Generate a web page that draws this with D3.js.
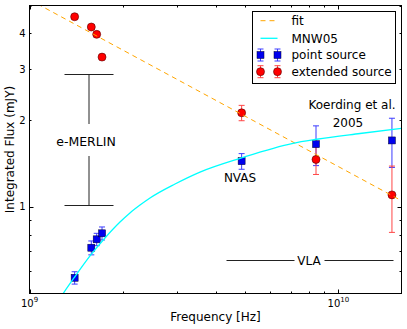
<!DOCTYPE html>
<html><head><meta charset="utf-8">
<script src="https://cdn.jsdelivr.net/npm/d3@7"></script>
<style>body{margin:0;background:#fff} text{font-family:"DejaVu Sans",sans-serif;fill:#000}</style>
</head><body><svg id="c" width="407" height="329"></svg>
<script>
// ---- data ----
const pointFreq = [1.40e9, 1.585e9, 1.65e9, 1.717e9, 4.86e9, 8.46e9, 1.49e10];
const pointFlux = [0.567, 0.721, 0.771, 0.809, 1.44, 1.65, 1.70];
const pointErr  = [0.028, 0.040, 0.038, 0.042, 0.09, 0.26, 0.33];
const extFreq = [1.40e9, 1.585e9, 1.65e9, 1.717e9, 4.86e9, 8.46e9, 1.49e10];
const extFlux = [4.57, 4.21, 3.97, 3.31, 2.12, 1.46, 1.10];
const extErr  = [0.08, 0.08, 0.08, 0.07, 0.13, 0.165, 0.285];
const fitFreq = [1.0e9, 1.6e10];
const fitFlux = [5.24, 1.05];
const modelFreq = [1.287e9, 1.393e9, 1.570e9, 1.755e9, 1.963e9, 2.114e9, 2.279e9, 2.455e9, 2.958e9, 3.563e9, 4.836e9, 7.125e9, 8.51e9, 1.174e10, 1.6e10];
const modelFlux = [0.501, 0.566, 0.675, 0.779, 0.885, 0.952, 1.014, 1.073, 1.20, 1.32, 1.477, 1.662, 1.716, 1.797, 1.873];
const yTickLabels = [1, 2, 3, 4];
const xTickLabels = [1e9, 1e10];
const legendLabels = ["fit", "MNW05", "point source", "extended source"];

// ---- layout ----
const svg = d3.select("#c");
const L = 29.5, R = 401.5, T = 5.5, B = 293.5;
const x = d3.scaleLog().domain([1e9, 1.6e10]).range([L, R]);
const y = d3.scaleLog().domain([0.5, 5]).range([B, T]);

svg.append("defs").append("clipPath").attr("id", "clip")
  .append("rect").attr("x", L).attr("y", T).attr("width", R - L).attr("height", B - T);

const isMajor = v => Math.abs(Math.log10(v) - Math.round(Math.log10(v))) < 1e-9;

// ticks (inward, all four sides)
const tg = svg.append("g").attr("stroke", "#000").attr("stroke-width", 1);
x.ticks().forEach(v => {
  const px = Math.round(x(v)) + 0.5, len = isMajor(v) ? 4 : 2;
  if (px <= L + 0.5 || px >= R - 0.5) return;
  tg.append("line").attr("x1", px).attr("x2", px).attr("y1", B).attr("y2", B - len);
  tg.append("line").attr("x1", px).attr("x2", px).attr("y1", T).attr("y2", T + len);
});
y.ticks().forEach(v => {
  const py = Math.round(y(v)) + 0.5, len = isMajor(v) ? 4 : 2;
  if (py <= T + 0.5 || py >= B - 0.5) return;
  tg.append("line").attr("y1", py).attr("y2", py).attr("x1", L).attr("x2", L + len);
  tg.append("line").attr("y1", py).attr("y2", py).attr("x1", R).attr("x2", R - len);
});

// tick labels
yTickLabels.forEach(v => {
  svg.append("text").attr("x", L - 4).attr("y", y(v)).attr("dy", "0.35em")
    .attr("text-anchor", "end").attr("font-size", 10).text(v);
});
xTickLabels.forEach(v => {
  const t = svg.append("text").attr("x", x(v)).attr("y", 306.5)
    .attr("text-anchor", "middle").attr("font-size", 10);
  t.append("tspan").text("10");
  t.append("tspan").attr("font-size", 7).attr("dy", -5).text(Math.round(Math.log10(v)));
});

// axis titles
svg.append("text").attr("x", (L + R) / 2).attr("y", 321).attr("text-anchor", "middle")
  .attr("font-size", 12).text("Frequency [Hz]");
svg.append("text").attr("transform", `translate(14,${(T + B) / 2}) rotate(-90)`)
  .attr("text-anchor", "middle").attr("font-size", 12).text("Integrated Flux (mJY)");

const plot = svg.append("g").attr("clip-path", "url(#clip)");

// error bars + markers
function errorbars(fr, fl, er, col) {
  fr.forEach((f, i) => {
    const px = x(f), y1 = y(fl[i] - er[i]), y2 = y(fl[i] + er[i]);
    plot.append("line").attr("x1", px).attr("x2", px).attr("y1", y1).attr("y2", y2)
      .attr("stroke", col).attr("stroke-width", 1);
    [y1, y2].forEach(yy => plot.append("line").attr("x1", px - 3).attr("x2", px + 3)
      .attr("y1", yy).attr("y2", yy).attr("stroke", col).attr("stroke-width", 1));
  });
}
errorbars(pointFreq, pointFlux, pointErr, "#3c3cff");
errorbars(extFreq, extFlux, extErr, "#ff4646");

pointFreq.forEach((f, i) => {
  plot.append("rect").attr("x", x(f) - 3.5).attr("y", y(pointFlux[i]) - 3.5)
    .attr("width", 7).attr("height", 7).attr("fill", "#0000ee")
    .attr("stroke", "#000033").attr("stroke-width", 0.5);
});
extFreq.forEach((f, i) => {
  plot.append("circle").attr("cx", x(f)).attr("cy", y(extFlux[i])).attr("r", 4)
    .attr("fill", "#ff0000").attr("stroke", "#550000").attr("stroke-width", 0.6);
});

// lines
const line = d3.line().x(d => x(d[0])).y(d => y(d[1]));
plot.append("path").datum(fitFreq.map((f, i) => [f, fitFlux[i]]))
  .attr("d", line).attr("fill", "none").attr("stroke", "#ffa500")
  .attr("stroke-width", 1).attr("stroke-dasharray", "5,4");
plot.append("path").datum(modelFreq.map((f, i) => [f, modelFlux[i]]))
  .attr("d", line.curve(d3.curveMonotoneX)).attr("fill", "none").attr("stroke", "#00ffff")
  .attr("stroke-width", 1.3);

// annotations
const ann = svg.append("g").attr("stroke", "#222").attr("stroke-width", 1);
const ex = 89;
ann.append("line").attr("x1", 64.5).attr("x2", 113.5).attr("y1", 74.5).attr("y2", 74.5);
ann.append("line").attr("x1", 64.5).attr("x2", 113.5).attr("y1", 205.5).attr("y2", 205.5);
ann.append("line").attr("x1", ex).attr("x2", ex).attr("y1", 74.5).attr("y2", 124);
ann.append("line").attr("x1", ex).attr("x2", ex).attr("y1", 156).attr("y2", 205.5);
svg.append("text").attr("x", 86).attr("y", 146).attr("text-anchor", "middle")
  .attr("font-size", 12.5).text("e-MERLIN");

ann.append("line").attr("x1", 226.5).attr("x2", 294.5).attr("y1", 260.5).attr("y2", 260.5);
ann.append("line").attr("x1", 324.5).attr("x2", 393.5).attr("y1", 260.5).attr("y2", 260.5);
svg.append("text").attr("x", 309).attr("y", 265).attr("text-anchor", "middle")
  .attr("font-size", 12).text("VLA");

svg.append("text").attr("x", 240).attr("y", 181.5).attr("text-anchor", "middle")
  .attr("font-size", 12).text("NVAS");
svg.append("text").attr("x", 352).attr("y", 109).attr("text-anchor", "middle")
  .attr("font-size", 12).text("Koerding et al.");
svg.append("text").attr("x", 348).attr("y", 127).attr("text-anchor", "middle")
  .attr("font-size", 12).text("2005");

// frame
svg.append("rect").attr("x", L).attr("y", T).attr("width", R - L).attr("height", B - T)
  .attr("fill", "none").attr("stroke", "#000").attr("stroke-width", 1);

// legend
const lg = svg.append("g");
lg.append("rect").attr("x", 252.5).attr("y", 11.5).attr("width", 143).attr("height", 72)
  .attr("fill", "#fff").attr("stroke", "#000").attr("stroke-width", 1);
const rowY = [20.7, 38.3, 55, 71.7];
const hx1 = 260.5, hx2 = 277.5;
lg.append("line").attr("x1", hx1).attr("x2", hx2).attr("y1", rowY[0]).attr("y2", rowY[0])
  .attr("stroke", "#ffa500").attr("stroke-dasharray", "5,4").attr("stroke-width", 1);
lg.append("line").attr("x1", hx1).attr("x2", hx2).attr("y1", rowY[1]).attr("y2", rowY[1])
  .attr("stroke", "#00ffff").attr("stroke-width", 1.3);
[hx1, hx2].forEach(hx => {
  [[rowY[2], "#3c3cff"], [rowY[3], "#ff4646"]].forEach(([ry, col]) => {
    lg.append("line").attr("x1", hx).attr("x2", hx).attr("y1", ry - 6).attr("y2", ry + 6).attr("stroke", col);
    lg.append("line").attr("x1", hx - 3).attr("x2", hx + 3).attr("y1", ry - 6).attr("y2", ry - 6).attr("stroke", col);
    lg.append("line").attr("x1", hx - 3).attr("x2", hx + 3).attr("y1", ry + 6).attr("y2", ry + 6).attr("stroke", col);
  });
  lg.append("rect").attr("x", hx - 3.5).attr("y", rowY[2] - 3.5).attr("width", 7).attr("height", 7)
    .attr("fill", "#0000ee").attr("stroke", "#000033").attr("stroke-width", 0.5);
  lg.append("circle").attr("cx", hx).attr("cy", rowY[3]).attr("r", 4)
    .attr("fill", "#ff0000").attr("stroke", "#550000").attr("stroke-width", 0.6);
});
legendLabels.forEach((t, i) => {
  lg.append("text").attr("x", 291.5).attr("y", rowY[i]).attr("dy", "0.35em")
    .attr("font-size", 12).text(t);
});
</script></body></html>
